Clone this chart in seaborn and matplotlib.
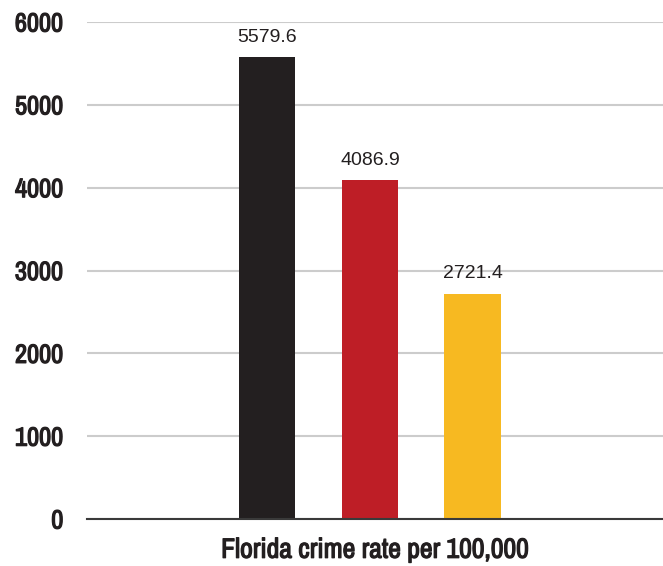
import matplotlib
matplotlib.use("Agg")
import matplotlib.pyplot as plt
import matplotlib.patheffects as pe
import seaborn as sns
import pandas as pd

# Chart data
category = ["Florida crime rate per 100,000"]
series = ["Series A", "Series B", "Series C"]
values = [5579.6, 4086.9, 2721.4]
colors = ["#231f20", "#be1e26", "#f7b921"]
y_ticks = [0, 1000, 2000, 3000, 4000, 5000, 6000]

df = pd.DataFrame({
    "category": category * len(series),
    "series": series,
    "value": values,
})

sns.set_theme(style="white")
plt.rcParams["font.family"] = ["Liberation Sans", "DejaVu Sans"]
narrow = ["Archivo Narrow", "IBM Plex Sans Condensed", "Liberation Sans", "DejaVu Sans"]
ink = "#231f20"
# the narrow face ships in one weight only, so thicken it with a matching stroke
heavy = [pe.withStroke(linewidth=0.9, foreground=ink)]

fig = plt.figure(figsize=(6.63, 5.66), dpi=100)
ax = fig.add_axes([87 / 663, 1 - 519 / 566, 1 - 87 / 663, (519 - 22) / 566])

sns.barplot(data=df, x="category", y="value", hue="series",
            palette=colors, width=0.8, gap=0.447, legend=False,
            saturation=1, linewidth=0, ax=ax, zorder=3)

for cont in ax.containers:
    ax.bar_label(cont, labels=[f"{v:.1f}" for v in cont.datavalues],
                 padding=8, fontsize=14, color=ink)

ax.set_ylim(0, 6000)
ax.set_xlim(-0.733, 0.759)
ax.set_yticks(y_ticks)
ax.set_yticklabels([str(t) for t in y_ticks], fontsize=19, color=ink,
                   family=narrow)
for lbl in ax.get_yticklabels():
    lbl.set_path_effects(heavy)
ax.tick_params(axis="y", length=0, pad=17)
ax.tick_params(axis="x", length=0)
ax.set_xticklabels([])
ax.set_xlabel("Florida crime rate per 100,000", fontsize=20, color=ink,
              labelpad=10, family=narrow, path_effects=heavy)
ax.set_ylabel("")

ax.grid(axis="y", color="#cccccc", linewidth=1.5, zorder=0)
ax.grid(axis="x", visible=False)
for side in ["top", "right", "left"]:
    ax.spines[side].set_visible(False)
ax.spines["bottom"].set_color("#3a3a3a")
ax.spines["bottom"].set_linewidth(1.5)
ax.spines["bottom"].set_zorder(4)

fig.savefig("out.png", dpi=100)
